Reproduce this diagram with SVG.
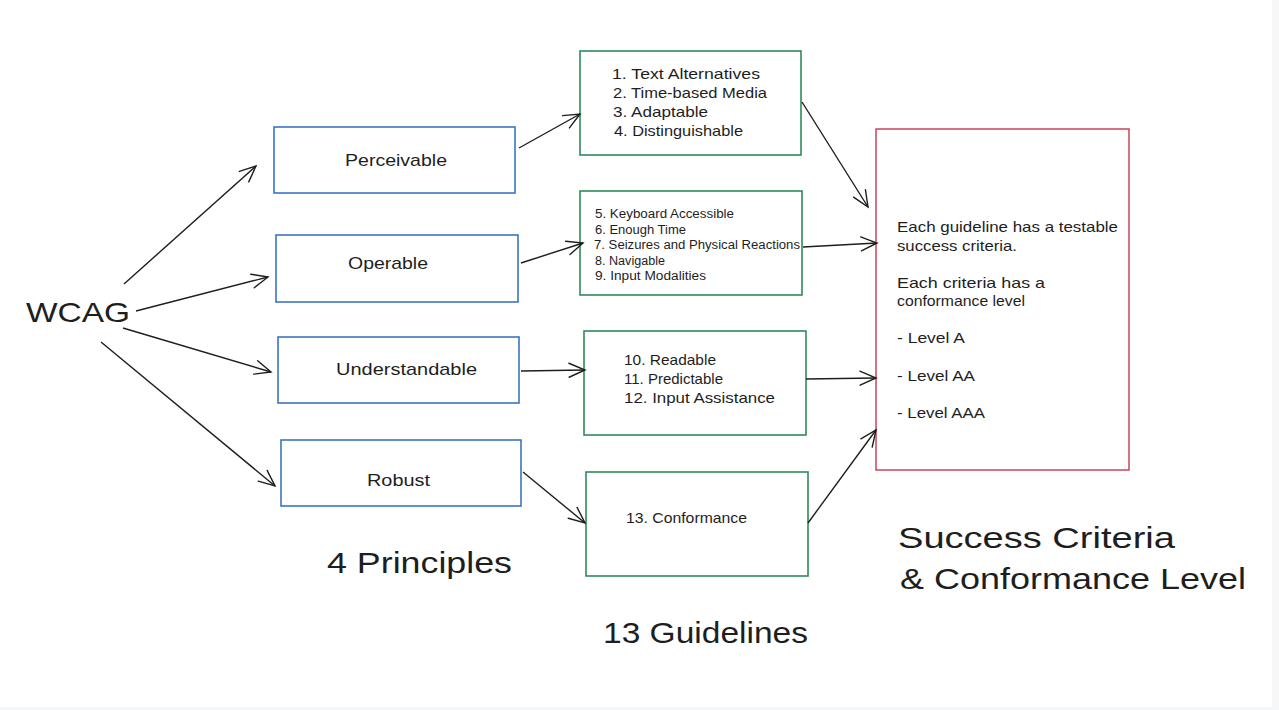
<svg xmlns="http://www.w3.org/2000/svg" width="1279" height="710" viewBox="0 0 1279 710">
<defs>
<marker id="ah" viewBox="-18 -9 20 18" refX="0" refY="0" markerWidth="20" markerHeight="18" markerUnits="userSpaceOnUse" orient="auto">
<path d="M-16,-7 L0,0 L-16,7" fill="none" stroke="#1e1e1e" stroke-width="1.4" stroke-linecap="round"/>
</marker>
<style>
text{font-family:"Liberation Sans","DejaVu Sans",sans-serif;fill:#1e1e1e}
.blue{fill:#fff;stroke:#3b74c4;stroke-width:1.6}
.green{fill:#fff;stroke:#2f8a5c;stroke-width:1.6}
.red{fill:#fff;stroke:#c9445a;stroke-width:1.5}
.c{stroke:#1e1e1e;stroke-width:1.4;fill:none;marker-end:url(#ah)}
.p{font-size:17px}
.g{font-size:15px}
.s{font-size:12px}
.big{font-size:30px}
</style>
</defs>
<rect width="1279" height="710" fill="#f6f7f9"/>
<rect width="1272" height="707" fill="#fff"/>

<g id="wcag"><text x="26" y="322" font-size="28" textLength="104" lengthAdjust="spacingAndGlyphs">WCAG</text></g>

<g id="perceivable"><rect class="blue" x="274" y="127" width="241" height="66"/><text class="p" x="345" y="166" textLength="102" lengthAdjust="spacingAndGlyphs">Perceivable</text></g>
<g id="operable"><rect class="blue" x="276" y="235" width="242" height="67"/><text class="p" x="348" y="269" textLength="80" lengthAdjust="spacingAndGlyphs">Operable</text></g>
<g id="understandable"><rect class="blue" x="278" y="337" width="241" height="66"/><text class="p" x="336" y="375" textLength="141" lengthAdjust="spacingAndGlyphs">Understandable</text></g>
<g id="robust"><rect class="blue" x="281" y="440" width="240" height="66"/><text class="p" x="367" y="486" textLength="63" lengthAdjust="spacingAndGlyphs">Robust</text></g>

<g id="guidelines-1-4"><rect class="green" x="580" y="51" width="221" height="104"/>
<text class="g" x="612" y="79" textLength="148" lengthAdjust="spacingAndGlyphs">1. Text Alternatives</text>
<text class="g" x="613" y="98" textLength="154" lengthAdjust="spacingAndGlyphs">2. Time-based Media</text>
<text class="g" x="613" y="117" textLength="95" lengthAdjust="spacingAndGlyphs">3. Adaptable</text>
<text class="g" x="614" y="136" textLength="129" lengthAdjust="spacingAndGlyphs">4. Distinguishable</text></g>

<g id="guidelines-5-9"><rect class="green" x="580" y="191" width="222" height="104"/>
<text class="s" x="595" y="218" textLength="139" lengthAdjust="spacingAndGlyphs">5. Keyboard Accessible</text>
<text class="s" x="595" y="234" textLength="91" lengthAdjust="spacingAndGlyphs">6. Enough Time</text>
<text class="s" x="594" y="249" textLength="206" lengthAdjust="spacingAndGlyphs">7. Seizures and Physical Reactions</text>
<text class="s" x="595" y="265" textLength="70" lengthAdjust="spacingAndGlyphs">8. Navigable</text>
<text class="s" x="595" y="280" textLength="111" lengthAdjust="spacingAndGlyphs">9. Input Modalities</text></g>

<g id="guidelines-10-12"><rect class="green" x="584" y="331" width="222" height="104"/>
<text class="g" x="624" y="365" textLength="92" lengthAdjust="spacingAndGlyphs">10. Readable</text>
<text class="g" x="624" y="384" textLength="99" lengthAdjust="spacingAndGlyphs">11. Predictable</text>
<text class="g" x="624" y="403" textLength="151" lengthAdjust="spacingAndGlyphs">12. Input Assistance</text></g>

<g id="guideline-13"><rect class="green" x="586" y="472" width="222" height="104"/>
<text class="g" x="626" y="523" textLength="121" lengthAdjust="spacingAndGlyphs">13. Conformance</text></g>

<g id="success-criteria"><rect class="red" x="876" y="129" width="253" height="341"/>
<text class="g" x="897" y="232" textLength="221" lengthAdjust="spacingAndGlyphs">Each guideline has a testable</text>
<text class="g" x="897" y="251" textLength="120" lengthAdjust="spacingAndGlyphs">success criteria.</text>
<text class="g" x="897" y="288" textLength="148" lengthAdjust="spacingAndGlyphs">Each criteria has a</text>
<text class="g" x="897" y="306" textLength="128" lengthAdjust="spacingAndGlyphs">conformance level</text>
<text class="g" x="897" y="343" textLength="68" lengthAdjust="spacingAndGlyphs">- Level A</text>
<text class="g" x="897" y="381" textLength="78" lengthAdjust="spacingAndGlyphs">- Level AA</text>
<text class="g" x="897" y="418" textLength="88" lengthAdjust="spacingAndGlyphs">- Level AAA</text></g>

<g id="labels">
<text class="big" x="327" y="573" textLength="185" lengthAdjust="spacingAndGlyphs">4 Principles</text>
<text class="big" x="603" y="643" textLength="205" lengthAdjust="spacingAndGlyphs">13 Guidelines</text>
<text class="big" x="898" y="548" textLength="277" lengthAdjust="spacingAndGlyphs">Success Criteria</text>
<text class="big" x="900" y="589" textLength="346" lengthAdjust="spacingAndGlyphs">&amp; Conformance Level</text>
</g>

<g id="connectors">
<path class="c" d="M124,284 L256,166"/>
<path class="c" d="M136,311 L268,277"/>
<path class="c" d="M123,328 L271,372"/>
<path class="c" d="M101,342 L275,486"/>
<path class="c" d="M519,148 L580,114"/>
<path class="c" d="M521,263 L583,243"/>
<path class="c" d="M521,371 L585,370"/>
<path class="c" d="M523,472 L585,523"/>
<path class="c" d="M802,102 L868,207"/>
<path class="c" d="M803,247 L877,243"/>
<path class="c" d="M806,379 L876,378"/>
<path class="c" d="M808,523 L876,430"/>
</g>
</svg>
